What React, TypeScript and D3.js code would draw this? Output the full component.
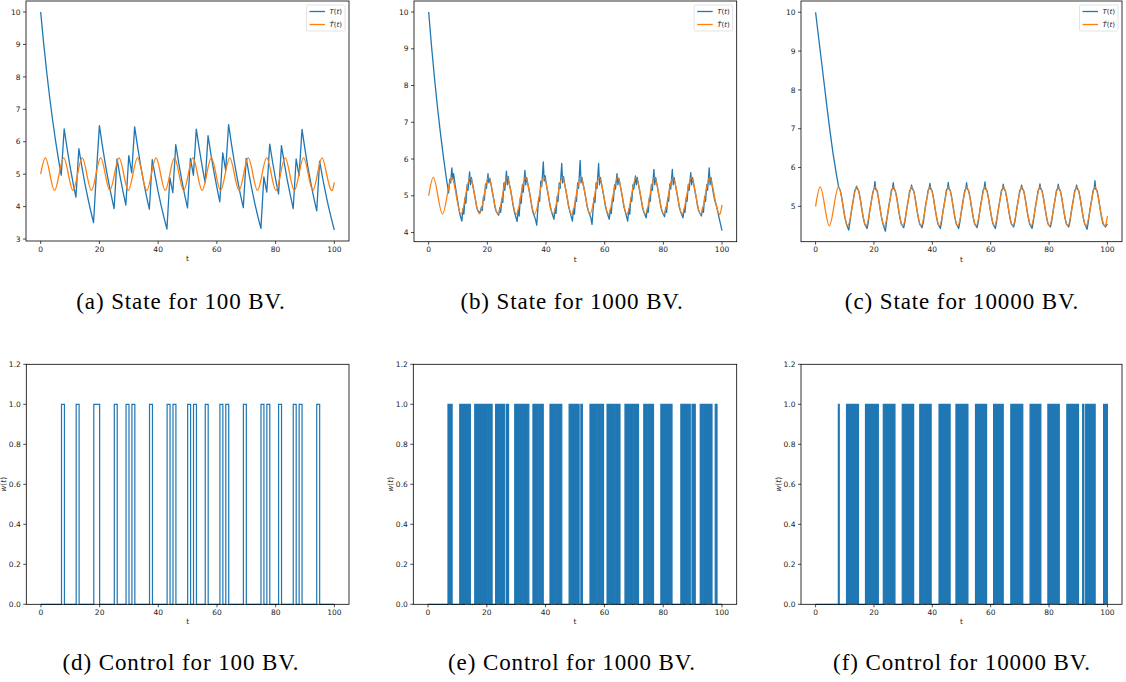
import React from "react";
import * as d3 from "d3";

const BLUE = "#1f77b4";
const ORANGE = "#ff7f0e";

// ---------- tick labels ----------
const timeTicks = [0, 20, 40, 60, 80, 100];
const stateTicksA = [3, 4, 5, 6, 7, 8, 9, 10];
const stateTicksB = [4, 5, 6, 7, 8, 9, 10];
const stateTicksC = [5, 6, 7, 8, 9, 10];
const controlTicks = [0, 0.2, 0.4, 0.6, 0.8, 1.0, 1.2];

const captionsTop = ["(a) State for 100 BV.", "(b) State for 1000 BV.", "(c) State for 10000 BV."];
const captionsBottom = ["(d) Control for 100 BV.", "(e) Control for 1000 BV.", "(f) Control for 10000 BV."];

// ---------- reference trajectory T^(t): extrema / crossings ----------
const refT = [0, 1.57, 3.14, 4.71, 6.28, 7.85, 9.42, 11.0, 12.57, 14.14, 15.71, 17.28, 18.85, 20.42, 21.99, 23.56,
  25.13, 26.7, 28.27, 29.85, 31.42, 32.99, 34.56, 36.13, 37.7, 39.27, 40.84, 42.41, 43.98, 45.55, 47.12, 48.69,
  50.27, 51.84, 53.41, 54.98, 56.55, 58.12, 59.69, 61.26, 62.83, 64.4, 65.97, 67.54, 69.12, 70.69, 72.26, 73.83,
  75.4, 76.97, 78.54, 80.11, 81.68, 83.25, 84.82, 86.39, 87.96, 89.54, 91.11, 92.68, 94.25, 95.82, 97.39, 98.96, 100];
const refV = [5, 5.5, 5, 4.5, 5, 5.5, 5, 4.5, 5, 5.5, 5, 4.5, 5, 5.5, 5, 4.5,
  5, 5.5, 5, 4.5, 5, 5.5, 5, 4.5, 5, 5.5, 5, 4.5, 5, 5.5, 5, 4.5,
  5, 5.5, 5, 4.5, 5, 5.5, 5, 4.5, 5, 5.5, 5, 4.5, 5, 5.5, 5, 4.5,
  5, 5.5, 5, 4.5, 5, 5.5, 5, 4.5, 5, 5.5, 5, 4.5, 5, 5.5, 5, 4.5, 4.75];

// ---------- state, 100 BV (t = 0..100) ----------
const stateA = [
  10, 9.05, 8.19, 7.41, 6.71, 6.07, 5.49, 4.97, 6.40, 5.79,
  5.24, 4.74, 4.29, 5.79, 5.24, 4.74, 4.29, 3.88, 3.51, 5.08,
  6.50, 5.88, 5.32, 4.82, 4.36, 3.94, 5.47, 4.95, 4.48, 4.05,
  5.57, 5.04, 6.46, 5.85, 5.29, 4.79, 4.33, 3.92, 5.45, 4.93,
  4.46, 4.04, 3.66, 3.31, 4.89, 4.43, 5.91, 5.35, 4.84, 4.38,
  3.96, 5.49, 4.97, 6.39, 5.79, 5.24, 4.74, 6.19, 5.60, 5.07,
  4.59, 4.15, 5.66, 5.12, 6.53, 5.91, 5.35, 4.84, 4.38, 3.97,
  5.49, 4.97, 4.50, 4.07, 3.68, 3.33, 4.92, 4.45, 5.93, 5.36,
  4.85, 4.39, 5.88, 5.32, 4.81, 4.36, 3.94, 5.47, 4.95, 6.38,
  5.77, 5.22, 4.73, 4.28, 3.87, 5.40, 4.89, 4.43, 4.01, 3.63,
  3.28];

// ---------- state, 1000 BV ----------
const stateB: [number, number][] = [
  [0, 10], [1, 9.05], [2, 8.19], [3, 7.41], [4, 6.71], [5, 6.07], [6, 5.49], [6.8, 5.08], [7.2, 5.45], [7.5, 5.35],
  [7.9, 5.76], [8.2, 5.45], [8.5, 5.6], [9.0, 5.3], [9.5, 5.05], [10.0, 4.8], [10.5, 4.55], [10.9, 4.42],
  [11.3, 4.31], [11.7, 4.65], [12.0, 4.5], [12.4, 4.95], [12.7, 4.8], [13.1, 5.3], [13.4, 5.15], [13.95, 5.65], [14.25, 5.3], [14.55, 5.5], [15.0, 5.3], [15.4, 5.12], [15.9, 4.92], [16.3, 4.72], [16.7, 4.6],
  [17.58, 4.54], [17.98, 4.7], [18.28, 4.6], [18.68, 4.98], [18.98, 4.88], [19.38, 5.32], [19.68, 5.2], [20.23, 5.6], [20.53, 5.35], [20.83, 5.48], [21.28, 5.3], [21.68, 5.1], [22.18, 4.9], [22.58, 4.7], [22.98, 4.58],
  [23.86, 4.47], [24.26, 4.68], [24.56, 4.55], [24.96, 4.92], [25.26, 4.82], [25.66, 5.35], [25.96, 5.15], [26.51, 5.67], [26.81, 5.3], [27.11, 5.52], [27.56, 5.28], [27.96, 5.15], [28.46, 4.9], [28.86, 4.7], [29.26, 4.55],
  [30.15, 4.3], [30.55, 4.62], [30.85, 4.45], [31.25, 4.95], [31.55, 4.8], [31.95, 5.3], [32.25, 5.1], [32.8, 5.69], [33.1, 5.3], [33.4, 5.5], [33.85, 5.3], [34.25, 5.15], [34.75, 4.92], [35.15, 4.7], [35.55, 4.55],
  [36.43, 4.35], [36.83, 4.2], [37.13, 4.55], [37.53, 4.95], [37.83, 4.85], [38.23, 5.4], [38.53, 5.25], [39.08, 5.92], [39.38, 5.4], [39.68, 5.55], [40.13, 5.3], [40.53, 5.12], [41.03, 4.9], [41.43, 4.7], [41.83, 4.58],
  [42.71, 4.36], [43.11, 4.65], [43.41, 4.52], [43.81, 4.98], [44.11, 4.85], [44.51, 5.35], [44.81, 5.2], [45.36, 5.88], [45.66, 5.35], [45.96, 5.52], [46.41, 5.3], [46.81, 5.12], [47.31, 4.9], [47.71, 4.7], [48.11, 4.58],
  [48.99, 4.31], [49.39, 4.65], [49.69, 4.5], [50.09, 4.95], [50.39, 4.85], [50.79, 5.35], [51.09, 5.2], [51.64, 5.96], [51.94, 5.35], [52.24, 5.5], [52.69, 5.3], [53.09, 5.15], [53.59, 4.92], [53.99, 4.72], [54.39, 4.6],
  [55.28, 4.4], [55.68, 4.22], [55.98, 4.55], [56.38, 4.95], [56.68, 4.82], [57.08, 5.35], [57.38, 5.2], [57.93, 5.88], [58.23, 5.3], [58.53, 5.5], [58.98, 5.3], [59.38, 5.12], [59.88, 4.9], [60.28, 4.7], [60.68, 4.58],
  [61.56, 4.36], [61.96, 4.65], [62.26, 4.52], [62.66, 4.95], [62.96, 4.85], [63.36, 5.3], [63.66, 5.18], [64.21, 5.6], [64.51, 5.3], [64.81, 5.48], [65.26, 5.3], [65.66, 5.12], [66.16, 4.9], [66.56, 4.7], [66.96, 4.58],
  [67.84, 4.31], [68.24, 4.65], [68.54, 4.5], [68.94, 4.95], [69.24, 4.85], [69.64, 5.3], [69.94, 5.18], [70.49, 5.54], [70.79, 5.3], [71.09, 5.5], [71.54, 5.3], [71.94, 5.12], [72.44, 4.9], [72.84, 4.7], [73.24, 4.58],
  [74.13, 4.4], [74.53, 4.65], [74.83, 4.55], [75.23, 4.95], [75.53, 4.85], [75.93, 5.3], [76.23, 5.15], [76.78, 5.72], [77.08, 5.3], [77.38, 5.5], [77.83, 5.3], [78.23, 5.12], [78.73, 4.9], [79.13, 4.7], [79.53, 4.58],
  [80.41, 4.43], [80.81, 4.68], [81.11, 4.55], [81.51, 4.95], [81.81, 4.85], [82.21, 5.32], [82.51, 5.18], [83.06, 5.72], [83.36, 5.3], [83.66, 5.5], [84.11, 5.3], [84.51, 5.12], [85.01, 4.9], [85.41, 4.7], [85.81, 4.58],
  [86.69, 4.4], [87.09, 4.65], [87.39, 4.55], [87.79, 4.95], [88.09, 4.85], [88.49, 5.3], [88.79, 5.15], [89.34, 5.63], [89.64, 5.3], [89.94, 5.5], [90.39, 5.3], [90.79, 5.12], [91.29, 4.9], [91.69, 4.7], [92.09, 4.58],
  [92.98, 4.45], [93.38, 4.68], [93.68, 4.55], [94.08, 4.98], [94.38, 4.85], [94.78, 5.3], [95.08, 5.15], [95.63, 5.76], [95.93, 5.3], [96.23, 5.5], [96.68, 5.25], [97.08, 5.05], [97.6, 4.85], [98.2, 4.7], [99.0, 4.4], [100, 4.05],
];

// ---------- state, 10000 BV ----------
const stateC: [number, number][] = [
  [0, 10], [1, 9.37], [2, 8.75], [3, 8.12], [4, 7.5], [5, 6.9], [6, 6.35], [7, 5.88], [7.9, 5.5], [8.5, 5.4], [9.0, 5.21], [9.5, 4.96], [10.0, 4.73], [10.5, 4.56],
  [11.35, 4.39], [11.8, 4.62], [12.2, 4.84], [12.6, 5.03], [13.0, 5.2], [13.4, 5.4], [13.8, 5.46], [14.05, 5.52], [14.3, 5.45], [14.8, 5.4], [15.3, 5.2], [15.8, 4.95], [16.3, 4.72], [16.8, 4.55],
  [17.63, 4.43], [18.08, 4.6], [18.48, 4.86], [18.88, 5.02], [19.28, 5.22], [19.68, 5.38], [20.08, 5.47], [20.33, 5.64], [20.58, 5.44], [21.08, 5.41], [21.58, 5.2], [22.08, 4.95], [22.58, 4.72], [23.08, 4.55],
  [23.91, 4.36], [24.36, 4.63], [24.76, 4.83], [25.16, 5.04], [25.56, 5.19], [25.96, 5.41], [26.36, 5.46], [26.61, 5.61], [26.86, 5.45], [27.36, 5.39], [27.86, 5.21], [28.36, 4.95], [28.86, 4.72], [29.36, 4.55],
  [30.2, 4.45], [30.65, 4.62], [31.05, 4.85], [31.45, 5.03], [31.85, 5.2], [32.25, 5.4], [32.65, 5.46], [32.9, 5.55], [33.15, 5.45], [33.65, 5.4], [34.15, 5.2], [34.65, 4.95], [35.15, 4.72], [35.65, 4.55],
  [36.48, 4.45], [36.93, 4.6], [37.33, 4.84], [37.73, 5.05], [38.13, 5.2], [38.53, 5.4], [38.93, 5.47], [39.18, 5.59], [39.43, 5.45], [39.93, 5.4], [40.43, 5.2], [40.93, 4.95], [41.43, 4.72], [41.93, 4.55],
  [42.76, 4.43], [43.21, 4.62], [43.61, 4.86], [44.01, 5.03], [44.41, 5.2], [44.81, 5.42], [45.21, 5.46], [45.46, 5.62], [45.71, 5.45], [46.21, 5.4], [46.71, 5.2], [47.21, 4.95], [47.71, 4.72], [48.21, 4.55],
  [49.04, 4.43], [49.49, 4.62], [49.89, 4.84], [50.29, 5.03], [50.69, 5.21], [51.09, 5.4], [51.49, 5.46], [51.74, 5.61], [51.99, 5.45], [52.49, 5.4], [52.99, 5.2], [53.49, 4.95], [53.99, 4.72], [54.49, 4.55],
  [55.33, 4.45], [55.78, 4.61], [56.18, 4.84], [56.58, 5.04], [56.98, 5.2], [57.38, 5.4], [57.78, 5.47], [58.03, 5.63], [58.28, 5.45], [58.78, 5.4], [59.28, 5.2], [59.78, 4.95], [60.28, 4.72], [60.78, 4.55],
  [61.61, 4.43], [62.06, 4.62], [62.46, 4.85], [62.86, 5.03], [63.26, 5.2], [63.66, 5.4], [64.06, 5.46], [64.31, 5.57], [64.56, 5.45], [65.06, 5.4], [65.56, 5.2], [66.06, 4.95], [66.56, 4.72], [67.06, 4.55],
  [67.89, 4.47], [68.34, 4.62], [68.74, 4.84], [69.14, 5.03], [69.54, 5.2], [69.94, 5.4], [70.34, 5.46], [70.59, 5.55], [70.84, 5.45], [71.34, 5.4], [71.84, 5.2], [72.34, 4.95], [72.84, 4.72], [73.34, 4.55],
  [74.18, 4.43], [74.63, 4.62], [75.03, 4.84], [75.43, 5.03], [75.83, 5.2], [76.23, 5.4], [76.63, 5.46], [76.88, 5.58], [77.13, 5.45], [77.63, 5.4], [78.13, 5.2], [78.63, 4.95], [79.13, 4.72], [79.63, 4.55],
  [80.46, 4.47], [80.91, 4.62], [81.31, 4.84], [81.71, 5.03], [82.11, 5.2], [82.51, 5.4], [82.91, 5.46], [83.16, 5.57], [83.41, 5.45], [83.91, 5.4], [84.41, 5.2], [84.91, 4.95], [85.41, 4.72], [85.91, 4.55],
  [86.74, 4.47], [87.19, 4.62], [87.59, 4.84], [87.99, 5.03], [88.39, 5.2], [88.79, 5.4], [89.19, 5.46], [89.44, 5.55], [89.69, 5.45], [90.19, 5.4], [90.69, 5.2], [91.19, 4.95], [91.69, 4.72], [92.19, 4.55],
  [93.03, 4.41], [93.48, 4.62], [93.88, 4.84], [94.28, 5.03], [94.68, 5.2], [95.08, 5.4], [95.48, 5.46], [95.73, 5.66], [95.98, 5.45], [96.48, 5.4], [96.98, 5.2], [97.48, 4.95], [97.98, 4.72], [98.48, 4.55],
  [99.31, 4.47], [100, 4.55],
];

// ---------- control on-intervals ----------
const controlA: [number, number][] = [
  [7, 8], [12, 13], [18, 20], [25, 26], [29, 30], [31, 32], [37, 38], [43, 44], [45, 46], [50, 51], [52, 53],
  [56, 57], [61, 62], [63, 64], [69, 70], [75, 76], [77, 78], [81, 82], [86, 87], [88, 89], [94, 95]];
const controlB: [number, number][] = [
  [6.8, 8.2], [10.8, 11.6], [12.0, 12.2], [12.4, 14.4], [15.9, 17.4], [17.6, 19.9], [20.1, 21.0], [21.3, 21.8],
  [23.0, 24.8], [25.0, 26.1], [26.7, 27.4], [29.5, 31.8], [32.0, 33.5], [33.8, 34.3], [35.7, 37.3], [37.5, 39.2],
  [41.5, 43.8], [44.1, 45.5], [48.0, 49.7], [50.0, 51.4], [52.0, 52.5], [55.1, 57.4], [57.6, 59.1], [59.3, 59.7],
  [60.9, 62.7], [62.95, 63.9], [64.2, 65.3], [67.0, 69.5], [69.8, 71.6], [73.4, 74.8], [75.0, 76.7], [79.2, 81.3],
  [81.6, 83.0], [86.0, 86.9], [87.3, 89.2], [89.8, 90.9], [92.6, 93.8], [94.1, 96.6], [97.7, 98.3]];
const controlC: [number, number][] = [
  [7.8, 8.1], [10.6, 14.7], [17.1, 20.7], [21.05, 21.5], [23.2, 27.2], [29.7, 33.6], [35.7, 37.4], [37.7, 39.6],
  [42.3, 46.1], [48.1, 52.2], [54.8, 58.6], [61.0, 64.3], [66.9, 71.0], [73.5, 77.2], [79.6, 83.5], [86.1, 90.1],
  [91.5, 91.8], [92.4, 95.8], [98.7, 100]];

// ---------- layout ----------
type Frame = { l: number; r: number; t: number; b: number };
const topFrames: Frame[] = [
  { l: 26, r: 349, t: 1, b: 241 },
  { l: 414, r: 736.7, t: 1, b: 241.7 },
  { l: 801, r: 1122, t: 1, b: 241.7 },
];
const bottomFrames: Frame[] = [
  { l: 26.3, r: 349, t: 364.3, b: 604.3 },
  { l: 413.3, r: 736.7, t: 364.3, b: 604.3 },
  { l: 801, r: 1122, t: 364.3, b: 604.3 },
];
const captionX = [181, 572, 962];

const TICK_FONT = "DejaVu Sans, sans-serif";

type Scale = d3.ScaleLinear<number, number>;

function Axes(props: {
  f: Frame;
  yDomain: [number, number];
  yTicks: number[];
  yFmt: (v: number) => string;
  ylabel?: boolean;
  children: (x: Scale, y: Scale) => React.ReactNode;
}) {
  const { f, yDomain, yTicks, yFmt, ylabel, children } = props;
  const x = d3.scaleLinear().domain([-5, 105]).range([f.l, f.r]);
  const y = d3.scaleLinear().domain(yDomain).range([f.b, f.t]);
  return (
    <g>
      {children(x, y)}
      <rect x={f.l} y={f.t} width={f.r - f.l} height={f.b - f.t} fill="none" stroke="#000" strokeWidth={0.8} />
      {timeTicks.map((v) => (
        <g key={"x" + v}>
          <line x1={x(v)} x2={x(v)} y1={f.b} y2={f.b + 3} stroke="#000" strokeWidth={0.7} />
          <text x={x(v)} y={f.b + 10.5} textAnchor="middle" fontSize={7.5} fontFamily={TICK_FONT} fill="#222">{v}</text>
        </g>
      ))}
      {yTicks.map((v) => (
        <g key={"y" + v}>
          <line x1={f.l - 3} x2={f.l} y1={y(v)} y2={y(v)} stroke="#000" strokeWidth={0.7} />
          <text x={f.l - 5.5} y={y(v)} dy="0.35em" textAnchor="end" fontSize={7.5} fontFamily={TICK_FONT} fill="#222">{yFmt(v)}</text>
        </g>
      ))}
      <text x={(f.l + f.r) / 2} y={f.b + 20} textAnchor="middle" fontSize={7.5} fontFamily={TICK_FONT} fill="#222">t</text>
      {ylabel && (
        <text transform={`translate(${f.l - 20},${(f.t + f.b) / 2}) rotate(-90)`} textAnchor="middle" fontSize={7.5} fontFamily={TICK_FONT} fill="#222">
          <tspan fontStyle="italic">w</tspan>(<tspan fontStyle="italic">t</tspan>)
        </text>
      )}
    </g>
  );
}

function Legend({ f }: { f: Frame }) {
  const w = 38.5;
  const h = 26;
  const l = f.r - 4 - w;
  const t = f.t + 4;
  return (
    <g>
      <rect x={l} y={t} width={w} height={h} rx={1.5} fill="#fff" fillOpacity={0.85} stroke="#d0d0d0" strokeWidth={0.6} />
      <line x1={l + 3} x2={l + 18.5} y1={t + 6.5} y2={t + 6.5} stroke={BLUE} strokeWidth={1.3} />
      <line x1={l + 3} x2={l + 18.5} y1={t + 19.5} y2={t + 19.5} stroke={ORANGE} strokeWidth={1.3} />
      <text x={l + 23} y={t + 6.5} dy="0.35em" fontSize={7} fontFamily={TICK_FONT} fill="#222">
        <tspan fontStyle="italic">T</tspan>(<tspan fontStyle="italic">t</tspan>)
      </text>
      <text x={l + 23} y={t + 19.5} dy="0.35em" fontSize={7} fontFamily={TICK_FONT} fill="#222">
        <tspan fontStyle="italic">{"T\u0302"}</tspan>(<tspan fontStyle="italic">t</tspan>)
      </text>
    </g>
  );
}

function stepPoints(intervals: [number, number][]): [number, number][] {
  const pts: [number, number][] = [[0, 0]];
  intervals.forEach(([a, b]) => {
    pts.push([a, 0], [a, 1], [b, 1], [b, 0]);
  });
  pts.push([100, 0]);
  return pts;
}

function StatePanel({ f, yDomain, yTicks, series }: { f: Frame; yDomain: [number, number]; yTicks: number[]; series: [number, number][] }) {
  return (
    <g>
      <Axes f={f} yDomain={yDomain} yTicks={yTicks} yFmt={(v) => String(v)}>
        {(x, y) => {
          const line = d3.line<[number, number]>().x((d) => x(d[0])).y((d) => y(d[1]));
          const ref = d3.line<number>().x((_, i) => x(refT[i])).y((d) => y(d)).curve(d3.curveNatural);
          return (
            <g>
              <path d={line(series) || ""} fill="none" stroke={BLUE} strokeWidth={1.3} strokeLinejoin="round" />
              <path d={ref(refV) || ""} fill="none" stroke={ORANGE} strokeWidth={1.3} />
            </g>
          );
        }}
      </Axes>
      <Legend f={f} />
    </g>
  );
}

function ControlPanel({ f, intervals, dense }: { f: Frame; intervals: [number, number][]; dense: boolean }) {
  return (
    <Axes f={f} yDomain={[0, 1.2]} yTicks={controlTicks} yFmt={d3.format(".1f")} ylabel>
      {(x, y) => {
        const pts = stepPoints(intervals);
        const line = d3.line<[number, number]>().x((d) => x(d[0])).y((d) => y(d[1]));
        const area = d3.area<[number, number]>().x((d) => x(d[0])).y0(y(0)).y1((d) => y(d[1]));
        return (
          <g>
            {dense && <path d={area(pts) || ""} fill={BLUE} stroke="none" />}
            <path d={line(pts) || ""} fill="none" stroke={BLUE} strokeWidth={1.2} />
          </g>
        );
      }}
    </Axes>
  );
}

export default function App() {
  const seriesA: [number, number][] = stateA.map((v, i) => [i, v]);
  return (
    <svg width={1126} height={682} viewBox="0 0 1126 682" style={{ position: "absolute", left: 0, top: 0, background: "#fff" }}>
      <rect x={0} y={0} width={1126} height={682} fill="#fff" />
      <StatePanel f={topFrames[0]} yDomain={[2.94, 10.34]} yTicks={stateTicksA} series={seriesA} />
      <StatePanel f={topFrames[1]} yDomain={[3.75, 10.3]} yTicks={stateTicksB} series={stateB} />
      <StatePanel f={topFrames[2]} yDomain={[4.09, 10.29]} yTicks={stateTicksC} series={stateC} />
      <ControlPanel f={bottomFrames[0]} intervals={controlA} dense={false} />
      <ControlPanel f={bottomFrames[1]} intervals={controlB} dense />
      <ControlPanel f={bottomFrames[2]} intervals={controlC} dense />
      {captionsTop.map((c, i) => (
        <text key={c} x={captionX[i]} y={309} textAnchor="middle" fontSize={23} letterSpacing={0.9} fontFamily="Liberation Serif, serif" fill="#000">{c}</text>
      ))}
      {captionsBottom.map((c, i) => (
        <text key={c} x={captionX[i]} y={670} textAnchor="middle" fontSize={23} letterSpacing={0.9} fontFamily="Liberation Serif, serif" fill="#000">{c}</text>
      ))}
    </svg>
  );
}
